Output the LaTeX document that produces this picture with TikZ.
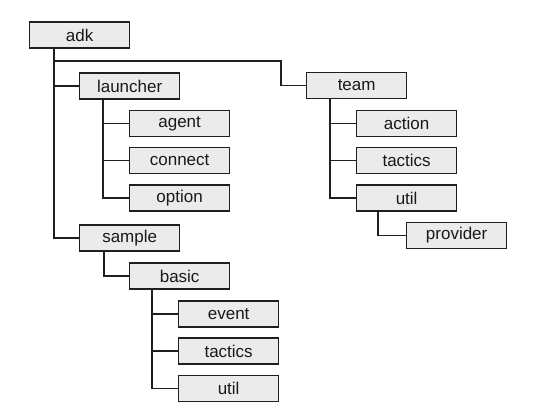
\documentclass[tikz,border=0pt]{standalone}
\usepackage{fontspec}
\setmainfont{Liberation Sans}
\begin{document}
\begin{tikzpicture}[x=1pt,y=-1pt,
  box/.style={draw=black!88, fill=black!8, line width=1.3pt, minimum width=100pt, minimum height=26pt, inner sep=0pt, text=black!90, font=\fontsize{17}{19}\selectfont, anchor=west},
  conn/.style={draw=black!88, line width=1.3pt}]
\useasboundingbox (0,0) rectangle (535,417);
\node[box] (adk) at (29,35) {adk};
\node[box] (launcher) at (79,86) {launcher};
\node[box] (agent) at (129,123.5) {agent};
\node[box] (connect) at (129,160.5) {connect};
\node[box] (option) at (129,198) {option};
\node[box] (sample) at (79,238) {sample};
\node[box] (basic) at (129,276) {basic};
\node[box] (event) at (178,314) {event};
\node[box] (btactics) at (178,351) {tactics};
\node[box] (butil) at (178,388.5) {util};
\node[box] (team) at (306,85.5) {team};
\node[box] (action) at (356,123.5) {action};
\node[box] (ttactics) at (356,160.5) {tactics};
\node[box] (tutil) at (356,198) {util};
\node[box] (provider) at (406,235.5) {provider};
\coordinate (j) at (281,61);
\draw[conn] ([xshift=25pt]adk.south west) |- (sample.west);
\draw[conn] ([xshift=25pt]adk.south west) |- (launcher.west);
\draw[conn] ([xshift=25pt]adk.south west) |- (j) |- (team.west);
\draw[conn] ([xshift=24pt]launcher.south west) |- (option.west);
\draw[conn] ([xshift=24pt]launcher.south west) |- (agent.west);
\draw[conn] ([xshift=24pt]launcher.south west) |- (connect.west);
\draw[conn] ([xshift=25pt]sample.south west) |- (basic.west);
\draw[conn] ([xshift=23pt]basic.south west) |- (butil.west);
\draw[conn] ([xshift=23pt]basic.south west) |- (event.west);
\draw[conn] ([xshift=23pt]basic.south west) |- (btactics.west);
\draw[conn] ([xshift=24pt]team.south west) |- (tutil.west);
\draw[conn] ([xshift=24pt]team.south west) |- (action.west);
\draw[conn] ([xshift=24pt]team.south west) |- (ttactics.west);
\draw[conn] ([xshift=22pt]tutil.south west) |- (provider.west);
\end{tikzpicture}
\end{document}
